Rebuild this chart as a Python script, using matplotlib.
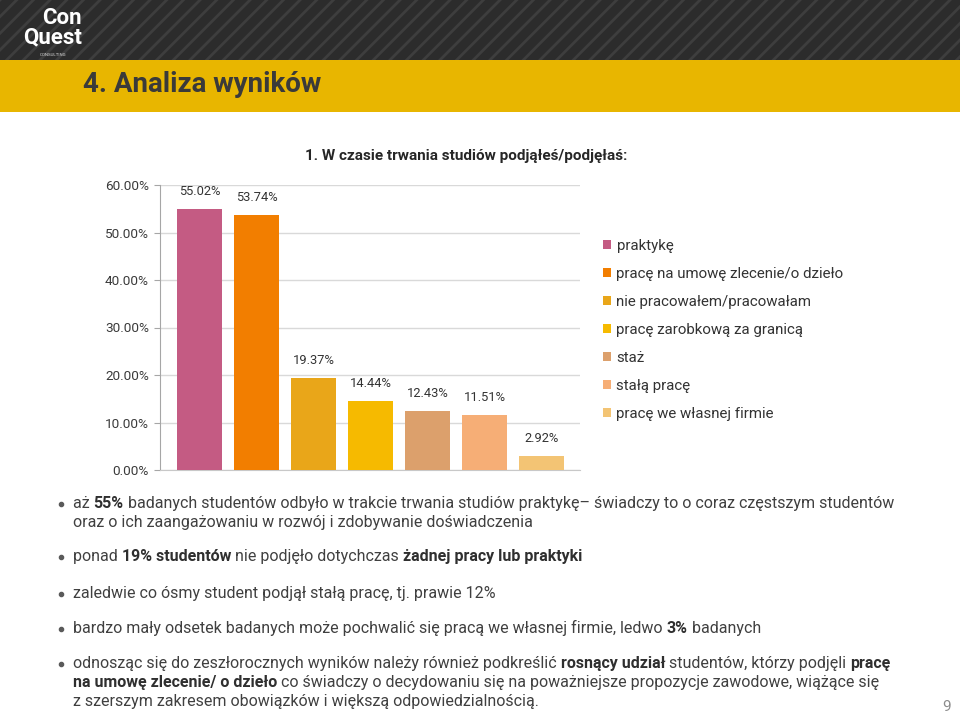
import matplotlib
matplotlib.use("Agg")
import matplotlib.pyplot as plt
from matplotlib.patches import Rectangle

plt.rcParams['font.family'] = ['Roboto', 'DejaVu Sans']
plt.rcParams['hatch.linewidth'] = 2.0

# ── Data ────────────────────────────────────────────────────────────────
categories = ["praktykę", "pracę na umowę zlecenie/o dzieło",
              "nie pracowałem/pracowałam", "pracę zarobkową za granicą",
              "staż", "stałą pracę", "pracę we własnej firmie"]
values = [55.02, 53.74, 19.37, 14.44, 12.43, 11.51, 2.92]
bar_colors = ["#C45B83", "#F27E00", "#E9A619", "#F6BA00",
              "#DCA06C", "#F6AE76", "#F3C474"]
yticks = [0, 10, 20, 30, 40, 50, 60]

W, H = 960, 714
fig = plt.figure(figsize=(W / 100, H / 100), dpi=100)
fig.patch.set_facecolor("white")


def fx(x):
    return x / W


def fy(y):
    return 1 - y / H


# ── Header bands ────────────────────────────────────────────────────────
bg = fig.add_axes([0, 0, 1, 1])
bg.set_xlim(0, W)
bg.set_ylim(H, 0)
bg.axis("off")
bg.add_patch(Rectangle((0, 0), W, 60, facecolor="#2c2c2c", edgecolor="#3e3e3e",
                       lw=0, hatch="//"))
bg.add_patch(Rectangle((0, 60), W, 52, facecolor="#E8B600", lw=0))

# logo
bg.text(82, 28, "Con\nQuest", color="white", fontsize=16, fontweight="bold",
        ha="right", va="center", multialignment="right", linespacing=0.85)
bg.text(53, 54.5, "CONSULTING", color="#dddddd", fontsize=3.2,
        ha="center", va="center")

bg.text(83, 85, "4. Analiza wyników", color="#3a3a3a", fontsize=20,
        fontweight="bold", va="center")

# ── Chart ───────────────────────────────────────────────────────────────
ax = fig.add_axes([fx(160), fy(470), (580 - 160) / W, (470 - 185) / H])
x = range(len(values))
bars = ax.bar(x, values, width=45 / 57, color=bar_colors, zorder=3)
ax.set_xlim(-39.5 / 57, 6 + 38.5 / 57)
ax.set_ylim(0, 60)
ax.set_yticks(yticks)
ax.set_yticklabels([f"{v:.2f}%" for v in yticks])
ax.tick_params(axis="y", length=4, color="#a6a6a6", labelsize=9.7,
               labelcolor="#3a3a3a", pad=4)
ax.tick_params(axis="x", length=0, labelbottom=False)
ax.grid(axis="y", color="#d9d9d9", lw=1, zorder=0)
for s in ["top", "right"]:
    ax.spines[s].set_visible(False)
ax.spines["left"].set_color("#a6a6a6")
ax.spines["bottom"].set_color("#c8c8c8")

for xi, v in zip(x, values):
    ax.annotate(f"{v:.2f}%", (xi, v), xytext=(0, 8), textcoords="offset points",
                ha="center", va="bottom", fontsize=9.3, color="#333333")

fig.text(fx(305), fy(156), "1. W czasie trwania studiów podjąłeś/podjęłaś:",
         fontsize=11, fontweight="bold", color="#262626", va="center")

fig.legend(bars.patches, categories, loc="upper left",
           bbox_to_anchor=(fx(603), fy(239)), frameon=False, fontsize=10.8,
           handlelength=0.55, handleheight=0.55, handletextpad=0.35,
           labelspacing=0.93, borderpad=0, borderaxespad=0, labelcolor="#333333")

# ── Bullet text ─────────────────────────────────────────────────────────
lines = [
    (503, True, [("aż ", 0), ("55%", 1), (" badanych studentów odbyło w trakcie trwania studiów praktykę– świadczy to o coraz częstszym studentów", 0)]),
    (522, False, [("oraz o ich zaangażowaniu w rozwój i zdobywanie doświadczenia", 0)]),
    (556, True, [("ponad ", 0), ("19% studentów", 1), (" nie podjęło dotychczas ", 0), ("żadnej pracy lub praktyki", 1)]),
    (593, True, [("zaledwie co ósmy student podjął stałą pracę, tj. prawie 12%", 0)]),
    (628, True, [("bardzo mały odsetek badanych może pochwalić się pracą we własnej firmie, ledwo ", 0), ("3%", 1), (" badanych", 0)]),
    (663, True, [("odnosząc się do zeszłorocznych wyników należy również podkreślić ", 0), ("rosnący udział", 1), (" studentów, którzy podjęli ", 0), ("pracę", 1)]),
    (682, False, [("na umowę zlecenie/ o dzieło", 1), (" co świadczy o decydowaniu się na poważniejsze propozycje zawodowe, wiążące się", 0)]),
    (701, False, [("z szerszym zakresem obowiązków i większą odpowiedzialnością.", 0)]),
]
TXT_SIZE = 11.5
renderer = fig.canvas.get_renderer()


def seg_width(s, bold):
    w = "bold" if bold else "normal"
    t1 = fig.text(0, 0, s + "|", fontsize=TXT_SIZE, fontweight=w)
    t2 = fig.text(0, 0, "|", fontsize=TXT_SIZE, fontweight=w)
    wd = t1.get_window_extent(renderer).width - t2.get_window_extent(renderer).width
    t1.remove()
    t2.remove()
    return wd


for y, bullet, segs in lines:
    if bullet:
        bg.plot(61, y + 1, "o", ms=3.0, color="#5a5a5a")
    cx = 73
    for s, b in segs:
        bg.text(cx, y + 5, s, fontsize=TXT_SIZE, va="baseline",
                fontweight="bold" if b else "normal",
                color="#2f2f2f" if b else "#404040")
        cx += seg_width(s, b)

bg.text(947, 707, "9", fontsize=11, color="#8c8c8c", ha="center", va="center")

fig.savefig("out.png", dpi=100, facecolor="white")
